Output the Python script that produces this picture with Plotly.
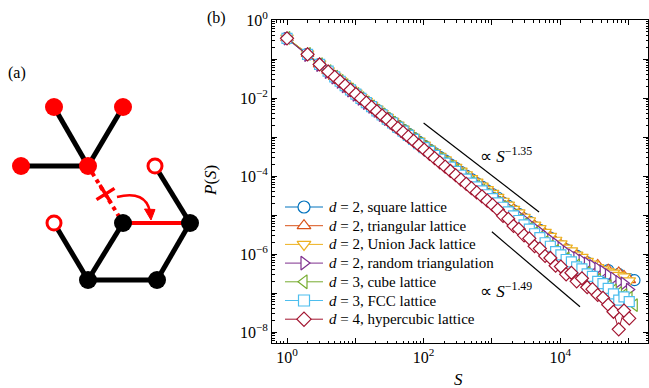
import plotly.graph_objects as go

W, H = 649, 388
FONT = "Liberation Serif"

# ---------------- panel (b) data ----------------
S_bins = [1, 2, 3, 4,
          5, 6, 7.1, 8.5, 10.2, 12.1, 14.5, 17.3, 20.7, 24.7,
          29.4, 35.2, 42, 50.1, 59.8, 71.5, 85.3, 102, 122, 145,
          173, 207, 247, 295, 352, 421, 502, 600, 716, 855,
          1021, 1219, 1455, 1738, 2075, 2477, 2958, 3532, 4217, 5035,
          6012, 7178, 8570, 10233, 12218, 14588, 17418, 20797, 24831, 29648,
          35400, 42267, 50466, 60256, 71945, 85901, 102565, 122462]

logP_square = [-0.46, -0.87, -1.13, -1.31,
               -1.45, -1.56, -1.67, -1.78, -1.89, -1.99, -2.10, -2.20, -2.30, -2.40,
               -2.51, -2.61, -2.71, -2.81, -2.91, -3.02, -3.12, -3.22, -3.32, -3.41,
               -3.51, -3.60, -3.70, -3.79, -3.89, -3.99, -4.08, -4.18, -4.27, -4.37,
               -4.46, -4.55, -4.68, -4.76, -4.88, -4.97, -5.09, -5.17, -5.30, -5.38,
               -5.50, -5.58, -5.71, -5.79, -5.88, -5.99, -6.04, -6.16, -6.21, -6.33,
               -6.38, -6.46, -6.41, -6.55, -6.51, -6.62, -6.64, -6.67]
logP_triangular = [-0.46, -0.86, -1.13, -1.30,
                   -1.45, -1.55, -1.66, -1.77, -1.88, -1.98, -2.09, -2.19, -2.29, -2.39,
                   -2.50, -2.60, -2.70, -2.80, -2.90, -3.01, -3.11, -3.21, -3.31, -3.40,
                   -3.50, -3.59, -3.69, -3.78, -3.88, -3.97, -4.07, -4.16, -4.26, -4.35,
                   -4.45, -4.56, -4.65, -4.77, -4.85, -4.97, -5.06, -5.17, -5.27, -5.37,
                   -5.48, -5.56, -5.68, -5.77, -5.86, -5.97, -6.03, -6.14, -6.19, -6.31,
                   -6.28, -6.44, -6.40, -6.52, -6.47, -6.56, -6.66]
logP_unionjack = [-0.46, -0.86, -1.12, -1.30,
                  -1.44, -1.55, -1.66, -1.77, -1.87, -1.98, -2.08, -2.18, -2.28, -2.39,
                  -2.49, -2.59, -2.69, -2.79, -2.90, -3.00, -3.10, -3.20, -3.30, -3.39,
                  -3.49, -3.58, -3.68, -3.77, -3.87, -3.96, -4.06, -4.15, -4.25, -4.34,
                  -4.44, -4.54, -4.64, -4.74, -4.85, -4.94, -5.05, -5.14, -5.25, -5.34,
                  -5.44, -5.54, -5.64, -5.73, -5.84, -5.91, -6.02, -6.08, -6.18, -6.25,
                  -6.34, -6.40, -6.45, -6.48, -6.54, -6.58, -6.68]
logP_randtri = [-0.48, -0.90, -1.16, -1.34,
                -1.48, -1.59, -1.70, -1.81, -1.92, -2.02, -2.13, -2.23, -2.33, -2.44,
                -2.54, -2.64, -2.74, -2.85, -2.95, -3.05, -3.15, -3.26, -3.36, -3.45,
                -3.55, -3.64, -3.74, -3.84, -3.93, -4.03, -4.13, -4.22, -4.32, -4.41,
                -4.51, -4.61, -4.72, -4.82, -4.92, -5.02, -5.12, -5.23, -5.33, -5.43,
                -5.54, -5.64, -5.74, -5.85, -5.95, -6.03, -6.10, -6.17, -6.24, -6.30,
                -6.37, -6.45, -6.54, -6.62, -6.71, -6.75, -6.91]
logP_cube = [-0.46, -0.87, -1.13, -1.31,
             -1.45, -1.56, -1.67, -1.78, -1.89, -2.00, -2.11, -2.21, -2.32, -2.42,
             -2.53, -2.63, -2.74, -2.84, -2.95, -3.05, -3.16, -3.26, -3.36, -3.46,
             -3.56, -3.66, -3.76, -3.86, -3.97, -4.07, -4.17, -4.27, -4.37, -4.47,
             -4.57, -4.68, -4.79, -4.91, -5.01, -5.13, -5.24, -5.35, -5.46, -5.58,
             -5.69, -5.80, -5.92, -6.03, -6.11, -6.22, -6.29, -6.41, -6.48, -6.60,
             -6.66, -6.77, -6.82, -6.93, -7.00, -7.05, -7.12, -7.31]
logP_fcc = [-0.47, -0.88, -1.14, -1.31,
            -1.46, -1.57, -1.68, -1.79, -1.90, -2.01, -2.12, -2.22, -2.33, -2.43,
            -2.54, -2.64, -2.75, -2.85, -2.96, -3.06, -3.17, -3.27, -3.37, -3.47,
            -3.57, -3.67, -3.77, -3.88, -3.98, -4.08, -4.18, -4.28, -4.38, -4.48,
            -4.58, -4.69, -4.80, -4.92, -5.02, -5.14, -5.25, -5.36, -5.48, -5.58,
            -5.71, -5.80, -5.94, -6.02, -6.14, -6.20, -6.33, -6.38, -6.51, -6.57,
            -6.70, -6.76, -6.88, -7.02, -7.18, -7.10, -7.22]
logP_hypercubic = [-0.47, -0.88, -1.14, -1.32,
                   -1.46, -1.57, -1.68, -1.79, -1.90, -2.01, -2.12, -2.23, -2.34, -2.45,
                   -2.55, -2.67, -2.77, -2.88, -2.99, -3.10, -3.21, -3.32, -3.43, -3.54,
                   -3.65, -3.76, -3.87, -3.98, -4.09, -4.20, -4.31, -4.42, -4.52, -4.63,
                   -4.74, -4.86, -5.02, -5.10, -5.28, -5.36, -5.52, -5.60, -5.80, -5.86,
                   -6.05, -6.10, -6.30, -6.32, -6.52, -6.48, -6.70, -6.62, -6.85, -6.90,
                   -7.05, -7.12, -7.30, -7.48, -7.93, -7.45, -7.65]

series_names = ["<i>d</i> = 2, square lattice",
                "<i>d</i> = 2, triangular lattice",
                "<i>d</i> = 2, Union Jack lattice",
                "<i>d</i> = 2, random triangulation",
                "<i>d</i> = 3, cube lattice",
                "<i>d</i> = 3, FCC lattice",
                "<i>d</i> = 4, hypercubic lattice"]
series_logP = [logP_square, logP_triangular, logP_unionjack, logP_randtri,
               logP_cube, logP_fcc, logP_hypercubic]
series_colors = ["#0072BD", "#D95319", "#EDB120", "#7E2F8E", "#77AC30", "#4DBEEE", "#A2142F"]
series_symbols = ["circle", "triangle-up", "triangle-down", "triangle-right",
                  "triangle-left", "square", "diamond"]
series_sizes = [11, 11, 11, 11, 11, 10, 10]

# guide lines (power laws)
guide1_S = [100, 4900]
guide1_P = [2.29e-3, 1.20e-5]
guide2_S = [1000, 19500]
guide2_P = [3.72e-6, 4.47e-8]

x_tickvals = [1, 10, 100, 1000, 1e4, 1e5]
x_ticktext = ["10<sup>0</sup>", "", "10<sup>2</sup>", "", "10<sup>4</sup>", ""]
y_tickvals = [1, 1e-1, 1e-2, 1e-3, 1e-4, 1e-5, 1e-6, 1e-7, 1e-8]
y_ticktext = ["10<sup>0</sup>", "", "10<sup>−2</sup>", "", "10<sup>−4</sup>", "",
              "10<sup>−6</sup>", "", "10<sup>−8</sup>"]

# ---------------- panel (a) data (diagram coordinates, overlay axis in px units) ----------------
nodes = {
    "A": (54, 107), "B": (123, 107), "C": (21, 166), "D": (88, 166),
    "E": (155, 166), "F": (54, 223),
    "G": (123, 223), "H": (190, 223), "I": (88, 280), "J": (157, 280),
}
red_filled = ["A", "B", "C", "D"]
red_open = ["E", "F"]
black_nodes = ["G", "H", "I", "J"]
black_edges = [("A", "D"), ("B", "D"), ("C", "D"), ("E", "H"), ("F", "I"),
               ("I", "G"), ("I", "J"), ("J", "H")]
red_edge = ("G", "H")
cut_edge = ("D", "G")
cut_mark = (105.5, 194)

# legend layout (overlay px units)
LEG_X0, LEG_X1, LEG_TEXT_X, LEG_Y0, LEG_DY = 285, 323, 327, 207, 18.7

fig = go.Figure()
OV = dict(xaxis="x2", yaxis="y2", showlegend=False, hoverinfo="skip")

# ---- panel (b) data
for name, lp, col, sym, sz in zip(series_names, series_logP, series_colors, series_symbols, series_sizes):
    fig.add_trace(go.Scatter(
        x=S_bins[:len(lp)], y=[10 ** v for v in lp], mode="lines+markers", name=name,
        line=dict(color=col, width=1), showlegend=False,
        marker=dict(symbol=sym, size=sz, color="white", line=dict(color=col, width=1.2)),
        xaxis="x", yaxis="y"))

for gs, gp in ((guide1_S, guide1_P), (guide2_S, guide2_P)):
    fig.add_trace(go.Scatter(x=gs, y=gp, mode="lines", line=dict(color="black", width=1.2),
                             showlegend=False, hoverinfo="skip", xaxis="x", yaxis="y"))

# ---- panel (a)
def edge_xy(edges):
    xs, ys = [], []
    for a, b in edges:
        xs += [nodes[a][0], nodes[b][0], None]
        ys += [nodes[a][1], nodes[b][1], None]
    return xs, ys

bx, by = edge_xy(black_edges)
fig.add_trace(go.Scatter(x=bx, y=by, mode="lines", line=dict(color="black", width=5), **OV))
rx, ry = edge_xy([red_edge])
fig.add_trace(go.Scatter(x=rx, y=ry, mode="lines", line=dict(color="#FF0000", width=4), **OV))
cx, cy = edge_xy([cut_edge])
fig.add_trace(go.Scatter(x=cx, y=cy, mode="lines", line=dict(color="#FF0000", width=4, dash="dot"), **OV))
fig.add_trace(go.Scatter(x=[cut_mark[0]], y=[cut_mark[1]], mode="markers",
                         marker=dict(symbol="x-thin", size=15, angle=13,
                                     line=dict(color="#FF0000", width=3.5)), **OV))
fig.add_trace(go.Scatter(x=[nodes[n][0] for n in red_filled], y=[nodes[n][1] for n in red_filled],
                         mode="markers", marker=dict(symbol="circle", size=18, color="#FF0000",
                                                     line=dict(width=0)), **OV))
fig.add_trace(go.Scatter(x=[nodes[n][0] for n in red_open], y=[nodes[n][1] for n in red_open],
                         mode="markers", marker=dict(symbol="circle", size=14, color="white",
                                                     line=dict(color="#FF0000", width=3)), **OV))
fig.add_trace(go.Scatter(x=[nodes[n][0] for n in black_nodes], y=[nodes[n][1] for n in black_nodes],
                         mode="markers", marker=dict(symbol="circle", size=18, color="black",
                                                     line=dict(width=0)), **OV))
fig.add_shape(type="path", path="M 117,197 Q 146,190 150,212", xref="x2", yref="y2",
              line=dict(color="#FF0000", width=2.5))
fig.add_shape(type="path", path="M 144.5,209 L 155,209.5 L 151,220 Z", xref="x2", yref="y2",
              line=dict(color="#FF0000", width=1), fillcolor="#FF0000")

# ---- legend (drawn as sample line + marker and a text label per series)
for i, (name, col, sym, sz) in enumerate(zip(series_names, series_colors, series_symbols, series_sizes)):
    yy = LEG_Y0 + LEG_DY * i
    fig.add_trace(go.Scatter(x=[LEG_X0, LEG_X1], y=[yy, yy], mode="lines",
                             line=dict(color=col, width=1), **OV))
    fig.add_trace(go.Scatter(x=[(LEG_X0 + LEG_X1) / 2], y=[yy], mode="markers",
                             marker=dict(symbol=sym, size=sz + 1, color="white",
                                         line=dict(color=col, width=1.2)), **OV))
    fig.add_annotation(text=name, x=LEG_TEXT_X, y=yy, xref="x2", yref="y2", xanchor="left",
                       yanchor="middle", showarrow=False,
                       font=dict(family=FONT, size=15, color="black"))

axis_common = dict(type="log", showline=True, linecolor="black", linewidth=1, mirror="allticks",
                   ticks="inside", ticklen=5, tickwidth=1, tickcolor="black", showgrid=False,
                   zeroline=False, automargin=False, tickmode="array",
                   tickfont=dict(family=FONT, size=16, color="black"),
                   minor=dict(ticks="inside", ticklen=2.5, tickwidth=0.8, tickcolor="black",
                              dtick="D1", showgrid=False))

fig.update_layout(
    width=W, height=H, template="none",
    margin=dict(l=0, r=0, t=0, b=0, autoexpand=False),
    paper_bgcolor="white", plot_bgcolor="rgba(0,0,0,0)",
    xaxis=dict(domain=[272 / W, 648 / W], range=[-0.2196, 5.2855], anchor="y",
               tickvals=x_tickvals, ticktext=x_ticktext, **axis_common),
    yaxis=dict(domain=[45 / H, 368 / H], range=[-8.28, 0], anchor="x",
               tickvals=y_tickvals, ticktext=y_ticktext, **axis_common),
    xaxis2=dict(domain=[0, 1], range=[0, W], visible=False, anchor="y2", fixedrange=True),
    yaxis2=dict(domain=[0, 1], range=[H, 0], visible=False, anchor="x2", fixedrange=True),
    showlegend=False,
    font=dict(family=FONT, color="black"),
)

annos = [
    dict(text="(a)", x=17, y=73, size=16, xanchor="center", angle=0),
    dict(text="(b)", x=216, y=18, size=16, xanchor="center", angle=0),
    dict(text="∝ <i>S</i><sup>−1.35</sup>", x=478, y=155, size=17, xanchor="left", angle=0),
    dict(text="∝ <i>S</i><sup>−1.49</sup>", x=478, y=290, size=17, xanchor="left", angle=0),
    dict(text="<i>P</i>(<i>S</i>)", x=210, y=181, size=17, xanchor="center", angle=-90),
    dict(text="<i>S</i>", x=458, y=379, size=17, xanchor="center", angle=0),
]
for a in annos:
    fig.add_annotation(text=a["text"], x=a["x"], y=a["y"], xref="x2", yref="y2",
                       xanchor=a["xanchor"], yanchor="middle", showarrow=False,
                       textangle=a["angle"], font=dict(family=FONT, size=a["size"], color="black"))

fig.write_html("out.html")
